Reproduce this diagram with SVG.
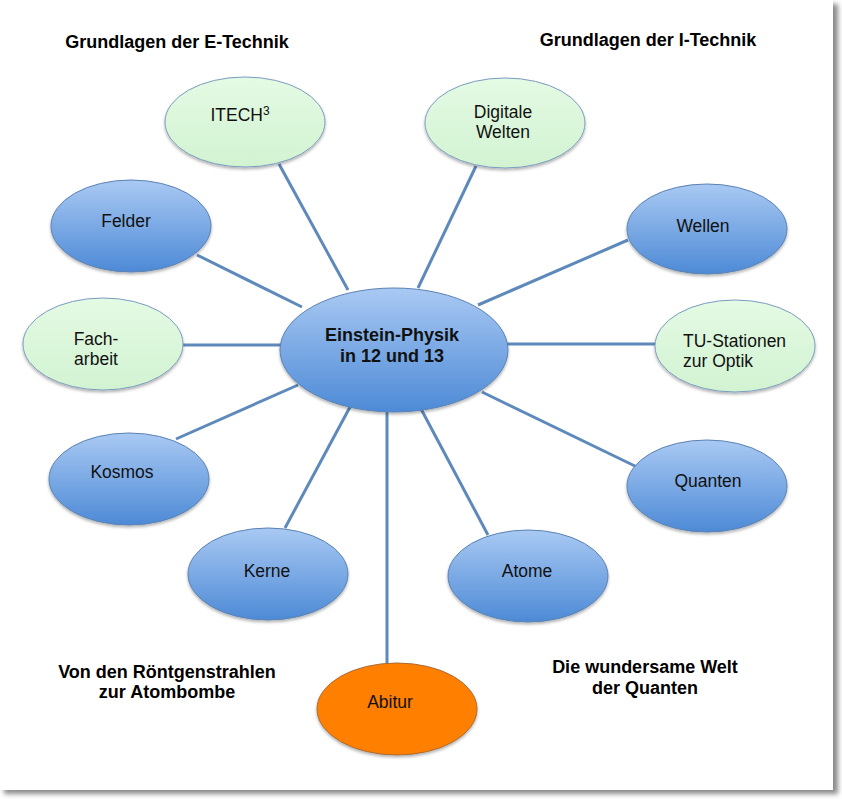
<svg xmlns="http://www.w3.org/2000/svg" width="842" height="799" viewBox="0 0 842 799">
<defs>
<linearGradient id="gBlue" x1="0" y1="0" x2="0" y2="1">
<stop offset="0" stop-color="#a9c9f3"/>
<stop offset="1" stop-color="#4d8ad6"/>
</linearGradient>
<linearGradient id="gGreen" x1="0" y1="0" x2="0" y2="1">
<stop offset="0" stop-color="#e4fae4"/>
<stop offset="1" stop-color="#d2f3d2"/>
</linearGradient>
<filter id="pageShadow" x="-5%" y="-5%" width="115%" height="115%">
<feGaussianBlur stdDeviation="2.5"/>
</filter>
<filter id="ds" x="-10%" y="-10%" width="120%" height="130%">
<feDropShadow dx="0" dy="2" stdDeviation="1.5" flood-color="#000" flood-opacity="0.3"/>
</filter>
<style>
.blue{fill:url(#gBlue);stroke:#5b82b3;stroke-width:1;filter:url(#ds)}
.green{fill:url(#gGreen);stroke:#7b9cbf;stroke-width:1;filter:url(#ds)}
.orange{fill:#ff7f00;stroke:#a86b35;stroke-width:1;filter:url(#ds)}
.lbl{font-family:"Liberation Sans",Arial,sans-serif;font-size:17.5px;fill:#111;text-anchor:middle}
.lbll{font-family:"Liberation Sans",Arial,sans-serif;font-size:17.5px;fill:#111}
.hdr{font-family:"Liberation Sans",Arial,sans-serif;font-size:18px;font-weight:bold;fill:#000;text-anchor:middle}
.ctr{font-family:"Liberation Sans",Arial,sans-serif;font-size:18px;font-weight:bold;fill:#111;text-anchor:middle}
#connectors line{stroke:#5e8abb;stroke-width:3;stroke-linecap:butt}
</style>
</defs>
<rect x="0" y="0" width="842" height="799" fill="#ffffff"/>
<rect x="4" y="4" width="834" height="790" fill="#8a8a8a" filter="url(#pageShadow)"/>
<rect x="0" y="0" width="833" height="790" fill="#ffffff"/>

<g id="headers">
<text class="hdr" x="177" y="48">Grundlagen der E-Technik</text>
<text class="hdr" x="648" y="46">Grundlagen der I-Technik</text>
<text class="hdr" x="167" y="678">Von den Röntgenstrahlen</text>
<text class="hdr" x="167" y="698">zur Atombombe</text>
<text class="hdr" x="645" y="673">Die wundersame Welt</text>
<text class="hdr" x="645" y="694">der Quanten</text>
</g>

<g id="connectors">
<line x1="348" y1="290" x2="279" y2="164"/>
<line x1="418" y1="288" x2="476" y2="166"/>
<line x1="302" y1="307" x2="197" y2="255"/>
<line x1="478" y1="305" x2="628" y2="240"/>
<line x1="281" y1="345" x2="183" y2="345"/>
<line x1="507" y1="344" x2="655" y2="344"/>
<line x1="298" y1="385" x2="176" y2="439"/>
<line x1="482" y1="392" x2="637" y2="467"/>
<line x1="350" y1="407" x2="285" y2="528"/>
<line x1="420" y1="407" x2="488" y2="535"/>
<line x1="387" y1="412" x2="387" y2="664"/>
</g>

<g id="node-itech">
<ellipse class="green" cx="245" cy="122" rx="80" ry="45"/>
<text class="lbl" x="240" y="121">ITECH<tspan font-size="12" dy="-6">3</tspan></text>
</g>
<g id="node-digitale">
<ellipse class="green" cx="505" cy="123" rx="80" ry="45"/>
<text class="lbl" x="503" y="118">Digitale</text>
<text class="lbl" x="503" y="138">Welten</text>
</g>
<g id="node-felder">
<ellipse class="blue" cx="131" cy="226" rx="80" ry="46"/>
<text class="lbl" x="126" y="227">Felder</text>
</g>
<g id="node-wellen">
<ellipse class="blue" cx="707" cy="229" rx="80" ry="45"/>
<text class="lbl" x="703" y="232">Wellen</text>
</g>
<g id="node-facharbeit">
<ellipse class="green" cx="103" cy="344" rx="80" ry="46"/>
<text class="lbl" x="96" y="345">Fach-</text>
<text class="lbl" x="96" y="365">arbeit</text>
</g>
<g id="node-tu">
<ellipse class="green" cx="735" cy="346" rx="80" ry="46"/>
<text class="lbll" x="683" y="347">TU-Stationen</text>
<text class="lbll" x="683" y="367">zur Optik</text>
</g>
<g id="node-center">
<ellipse class="blue" cx="394" cy="350" rx="114" ry="62"/>
<text class="ctr" x="392" y="341">Einstein-Physik</text>
<text class="ctr" x="392" y="362">in 12 und 13</text>
</g>
<g id="node-kosmos">
<ellipse class="blue" cx="129" cy="479" rx="80" ry="46"/>
<text class="lbl" x="122" y="478">Kosmos</text>
</g>
<g id="node-quanten">
<ellipse class="blue" cx="707" cy="486" rx="80" ry="46"/>
<text class="lbl" x="708" y="487">Quanten</text>
</g>
<g id="node-kerne">
<ellipse class="blue" cx="268" cy="574" rx="80" ry="46"/>
<text class="lbl" x="267" y="577">Kerne</text>
</g>
<g id="node-atome">
<ellipse class="blue" cx="528" cy="576" rx="80" ry="46"/>
<text class="lbl" x="527" y="577">Atome</text>
</g>
<g id="node-abitur">
<ellipse class="orange" cx="397" cy="709" rx="80" ry="46"/>
<text class="lbl" x="390" y="708">Abitur</text>
</g>
</svg>
